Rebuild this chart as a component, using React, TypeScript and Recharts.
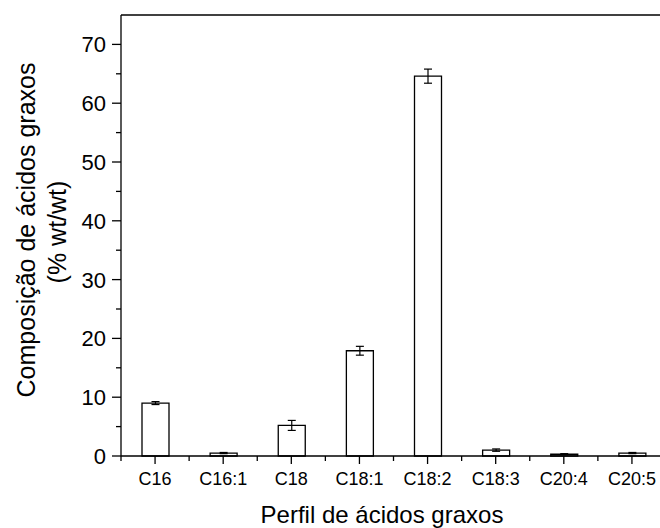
import { BarChart, Bar, XAxis, YAxis, ErrorBar, ReferenceLine } from 'recharts'

const acids = ['C16', 'C16:1', 'C18', 'C18:1', 'C18:2', 'C18:3', 'C20:4', 'C20:5']
const composition = [9.0, 0.5, 5.2, 17.9, 64.6, 1.0, 0.3, 0.5]
const deviation = [0.25, 0.1, 0.85, 0.75, 1.2, 0.2, 0.1, 0.1]
const yLabels = [0, 10, 20, 30, 40, 50, 60, 70]
const yAllTicks = [0, 5, 10, 15, 20, 25, 30, 35, 40, 45, 50, 55, 60, 65, 70]

const FONT = '"Liberation Sans", Arial, Helvetica, sans-serif'

const data = acids.map((name, i) => ({
    name,
    value: composition[i],
    err: deviation[i]
}))

function YTick(props: any) {
    const { x, y, payload } = props
    const major = yLabels.includes(payload.value)
    return (
        <g>
            <line x1={x} x2={x - (major ? 9 : 5)} y1={y} y2={y} stroke="#000" strokeWidth={1.3} />
            {major && (
                <text
                    x={x - 15}
                    y={y}
                    dy="0.36em"
                    textAnchor="end"
                    fontSize={22}
                    fontFamily={FONT}
                    fill="#000"
                >
                    {payload.value}
                </text>
            )}
        </g>
    )
}

function XTick(props: any) {
    const { x, y, payload } = props
    const half = payload.offset ?? 34
    return (
        <g>
            <line x1={x} x2={x} y1={y} y2={y + 8} stroke="#000" strokeWidth={1.3} />
            <line x1={x - half} x2={x - half} y1={y} y2={y + 5} stroke="#000" strokeWidth={1.3} />
            <text x={x} y={y + 29} textAnchor="middle" fontSize={18} fontFamily={FONT} fill="#000">
                {payload.value}
            </text>
        </g>
    )
}

const xTitle = () => (
    <text x={382} y={523} textAnchor="middle" fontSize={24} fontFamily={FONT} fill="#000">
        Perfil de ácidos graxos
    </text>
)

const yTitle = () => (
    <g fontFamily={FONT} fill="#000" textAnchor="middle">
        <text transform="translate(35, 230) rotate(-90)" fontSize={25}>
            Composição de ácidos graxos
        </text>
        <text transform="translate(66, 232) rotate(-90)" fontSize={25}>
            (% wt/wt)
        </text>
    </g>
)

export default function App() {
    return (
        <div style={{ position: 'absolute', left: 0, top: 0, width: 660, height: 528, overflow: 'hidden', background: '#fff' }}>
            <BarChart
                width={666}
                height={528}
                data={data}
                margin={{ top: 15, right: 0, bottom: 0, left: 0 }}
            >
                <XAxis
                    dataKey="name"
                    height={72}
                    interval={0}
                    tickSize={0}
                    tickMargin={0}
                    tickLine={false}
                    axisLine={{ stroke: '#000', strokeWidth: 1.3 }}
                    tick={<XTick />}
                    label={{ content: xTitle }}
                />
                <YAxis
                    width={121}
                    domain={[0, 75]}
                    ticks={yAllTicks}
                    interval={0}
                    tickSize={0}
                    tickMargin={0}
                    tickLine={false}
                    axisLine={{ stroke: '#000', strokeWidth: 1.3 }}
                    tick={<YTick />}
                    label={{ content: yTitle }}
                />
                <ReferenceLine y={75} stroke="#000" strokeWidth={1.3} ifOverflow="visible" />
                <Bar dataKey="value" barSize={27} fill="#fff" stroke="#000" strokeWidth={1.3} isAnimationActive={false}>
                    <ErrorBar dataKey="err" width={4} stroke="#000" strokeWidth={1.2} />
                </Bar>
            </BarChart>
        </div>
    )
}
